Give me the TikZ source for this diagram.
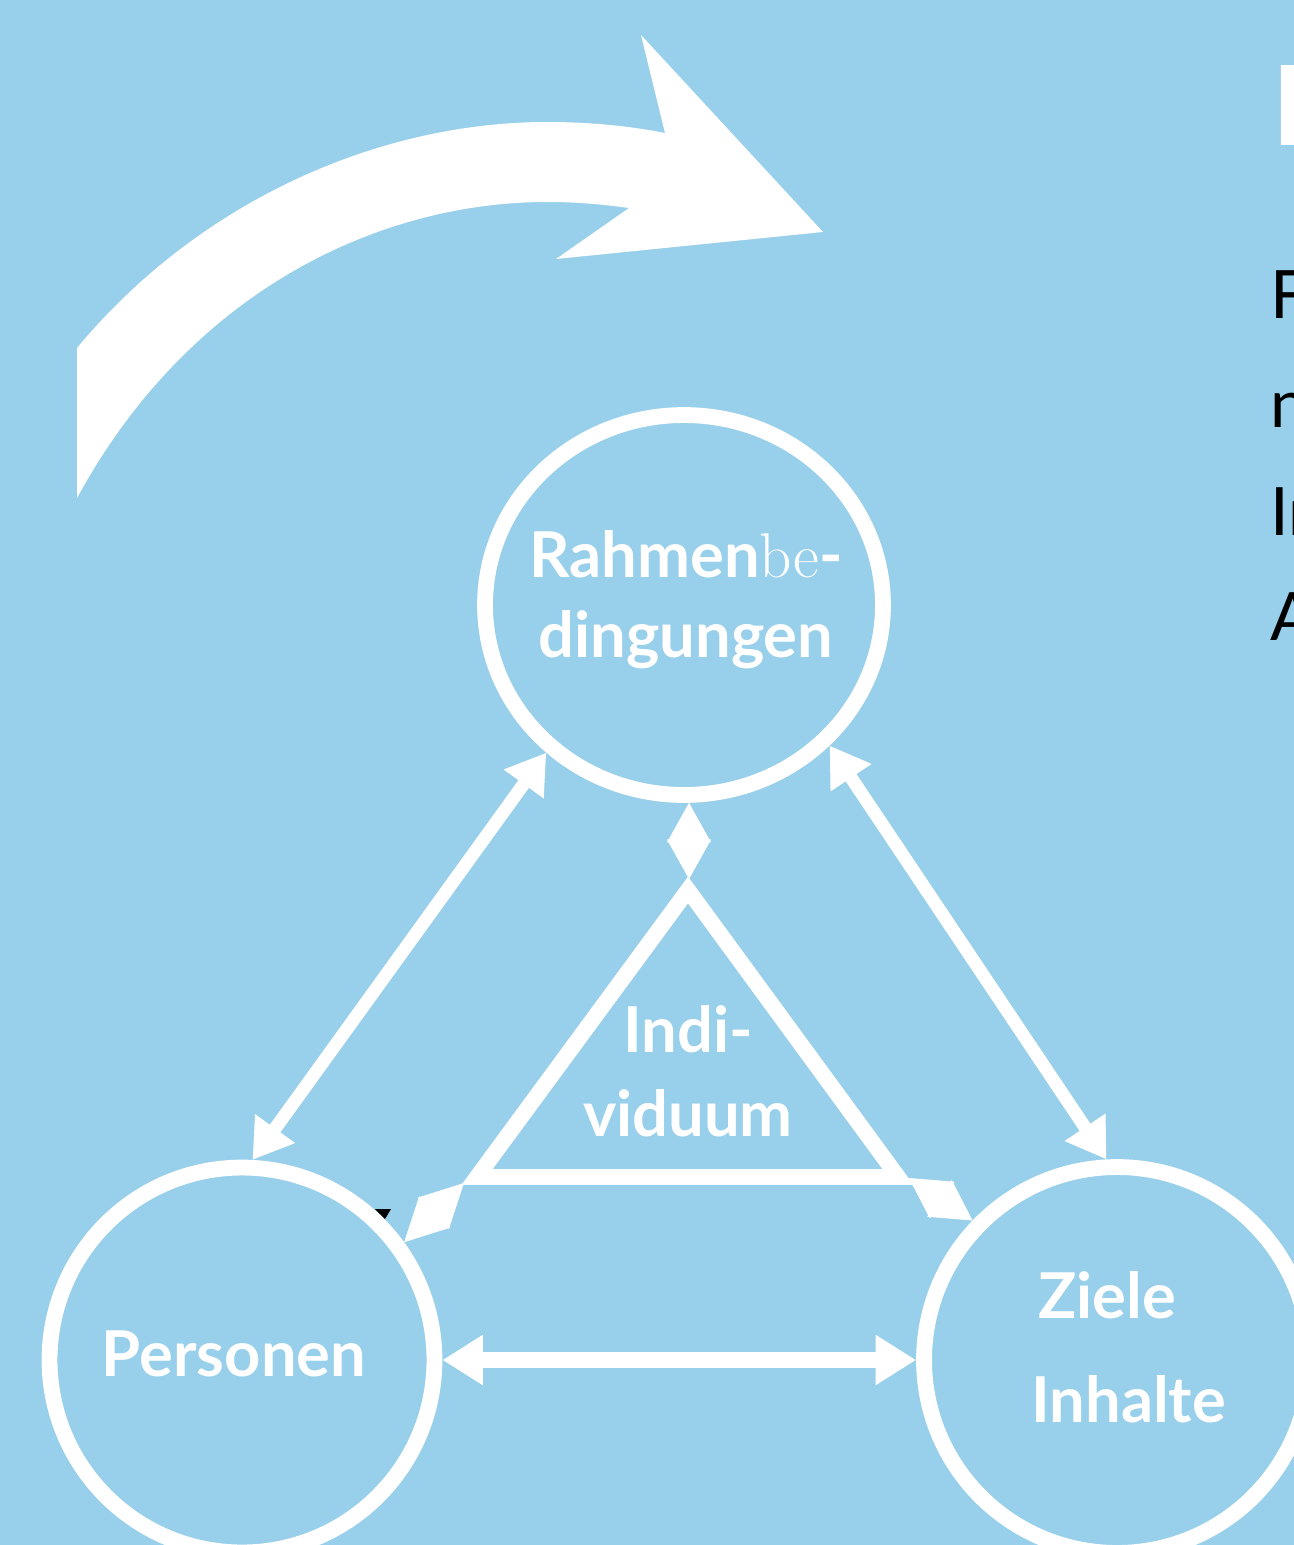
\documentclass[tikz,border=0pt]{standalone}
\usepackage{fontspec}
\newfontfamily\labelfont{Lato}
\usetikzlibrary{arrows.meta, shapes.geometric}
\definecolor{skyblue}{HTML}{98CFEB}

\tikzset{
  ring/.style={draw=white, line width=9pt, ellipse, inner sep=0pt},
  lbl/.style={text=white, font=\labelfont\bfseries\fontsize{36}{45.4}\selectfont, align=center, inner sep=0pt},
  side/.style={text=black, font=\labelfont\fontsize{38}{46}\selectfont, inner sep=0pt, anchor=base west},
  arr/.style={white, line width=7.4pt, <->, >={Triangle[length=22pt,width=26.5pt]}},
  dia/.style={white, line width=0.4pt, <->, >={Triangle[length=#1,width=25pt]}},
  dia/.default=22pt
}

\begin{document}
\begin{tikzpicture}[x=0.02cm, y=-0.02cm]
  \fill[skyblue] (0,0) rectangle (1294,1545);
  \useasboundingbox (0,0) rectangle (1294,1545);

  % big curved arrow
  \fill[white] (77,498) -- (77,348) .. controls (200,200) and (380,122) .. (547,122)
    .. controls (590,122) and (630,126) .. (665,133) -- (641,35) -- (823,232) -- (556,259)
    -- (629,208) .. controls (600,204) and (575,202) .. (547,202)
    .. controls (380,202) and (190,290) .. (77,498) -- cycle;

  % small black mark
  \fill[black] (375,1209) -- (391,1209) -- (385,1219) -- cycle;

  % circles
  \node[ring, minimum width=7.96cm, minimum height=7.6cm] (rahmen) at (684,605) {};
  \node[ring, circle, minimum size=7.7cm] (pers) at (242,1360) {};
  \node[ring, circle, minimum size=7.72cm] (ziele) at (1117,1360) {};

  \node[lbl] at (686,600) {Rahmen{\rmfamily\mdseries be}-\\dingungen};
  \node[lbl] at (234,1354) {Personen};
  \node[lbl, align=left, anchor=west, font=\labelfont\bfseries\fontsize{36}{59}\selectfont] at (1031,1347) {\hspace{4pt}Ziele\\Inhalte};

  % triangle in the middle
  \coordinate (apex) at (688,890);
  \coordinate (tl) at (477,1177);
  \coordinate (tr) at (898,1177);
  \draw[white, line width=9pt, line join=miter] (apex) -- (tl) -- (tr) -- cycle;
  \node[lbl, font=\labelfont\bfseries\fontsize{36}{47.6}\selectfont] at (688,1071) {Indi-\\viduum};

  \coordinate (apextip) at (689,879);
  \coordinate (ltip) at (464,1183);
  \coordinate (rtip) at (909,1178);
  \draw[dia=22.5pt] (apextip) -- (apextip |- rahmen.south);
  \draw[dia=24.5pt] (ltip) -- (pers.36);
  \draw[dia=22.6pt] (rtip) -- (ziele.136);

  % arrows between circles
  \draw[arr] (pers.87) -- (rahmen.227);
  \draw[arr] (rahmen.316) -- (ziele.93);
  \draw[arr, line width=9pt, >={Triangle[length=23pt,width=27pt]}] (pers) -- (ziele);

  % text at the right edge
  \node[anchor=base west, text=white, inner sep=0pt, font=\labelfont\bfseries\fontsize{63}{70}\selectfont] (title) at (1272,145) {I};
  \foreach \ltr/\base in {F/318, n/427, In/535, A/640}
    \node[side] at (1270,\base) {\ltr};
\end{tikzpicture}
\end{document}
